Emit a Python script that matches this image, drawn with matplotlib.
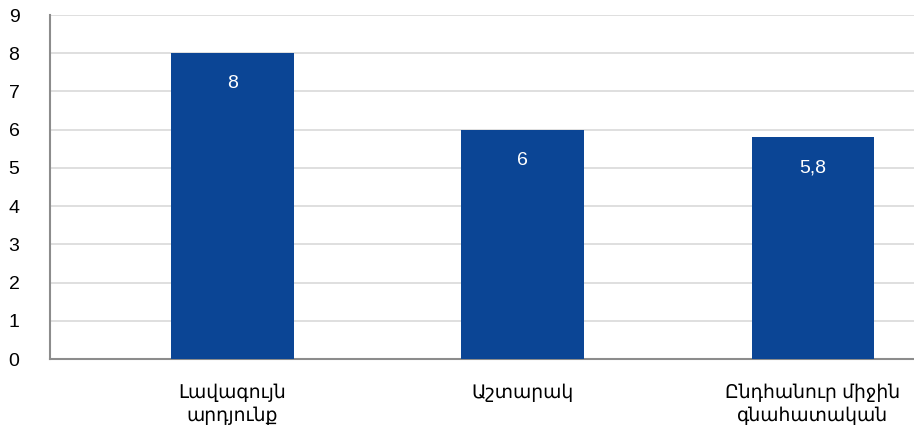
import matplotlib
matplotlib.use("Agg")
import matplotlib.pyplot as plt

# Data
categories = ["Լավագույն\nարդյունք", "Աշտարակ", "Ընդհանուր միջին\nգնահատական"]
values = [8, 6, 5.8]
yticks = list(range(0, 10))

BAR_COLOR = "#0B4595"
FONTS = ["Liberation Sans", "DejaVu Sans"]

plt.rcParams["font.family"] = FONTS

fig = plt.figure(figsize=(9.14, 4.34), dpi=100)
ax = fig.add_axes([50 / 914, 75 / 434, 1 - 50 / 914, 344 / 434])

x = list(range(len(categories)))
bars = ax.bar(x, values, width=0.423, color=BAR_COLOR, zorder=3)

# value labels inside the bars, decimal comma
for xi, v in zip(x, values):
    txt = f"{v:g}".replace(".", ",")
    ax.text(xi, v - 0.8, txt, ha="center", va="center",
            color="white", fontsize=14, zorder=4)

ax.set_xlim(-0.627, 2.348)
ax.set_ylim(0, 9)
ax.set_yticks(yticks)
ax.set_yticklabels([str(t) for t in yticks], fontsize=14)
ax.set_xticks(x)
ax.set_xticklabels(categories, fontsize=13.5, linespacing=1.3)

ax.yaxis.grid(True, color="#D9D9D9", linewidth=1.2, zorder=0)
ax.set_axisbelow(True)

for side in ("top", "right"):
    ax.spines[side].set_visible(False)
for side in ("left", "bottom"):
    ax.spines[side].set_color("#8C8C8C")
    ax.spines[side].set_linewidth(1.5)

ax.tick_params(axis="both", length=0)
ax.tick_params(axis="y", pad=22)
ax.tick_params(axis="x", pad=18)

fig.savefig("out.png", dpi=100)
